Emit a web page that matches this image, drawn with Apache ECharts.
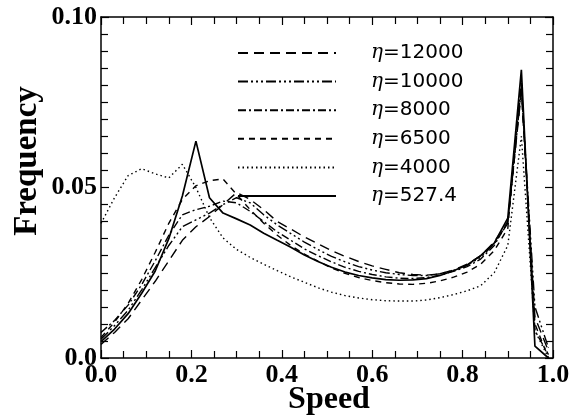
<!DOCTYPE html>
<html>
<head>
<meta charset="utf-8">
<script src="https://cdn.jsdelivr.net/npm/echarts@6/dist/echarts.min.js"></script>
<style>
  html, body { margin: 0; padding: 0; background: #fff; }
  #chart { width: 576px; height: 416px; }
</style>
</head>
<body>
<div id="chart"></div>
<script>
// speed bins (x) and frequency values per eta
const speed = [0.00, 0.03, 0.06, 0.09, 0.12, 0.15, 0.18, 0.21, 0.24, 0.27,
  0.30, 0.33, 0.36, 0.39, 0.42, 0.45, 0.48, 0.51, 0.54, 0.57,
  0.60, 0.63, 0.66, 0.69, 0.72, 0.75, 0.78, 0.81, 0.84, 0.87,
  0.90, 0.93, 0.96, 0.99]

const eta12000 = [0.0040, 0.0075, 0.0115, 0.0170, 0.0225, 0.0285, 0.0345, 0.0385, 0.0415, 0.0450,
  0.0485, 0.0465, 0.0435, 0.0400, 0.0378, 0.0355, 0.0335, 0.0315, 0.0298, 0.0283,
  0.0270, 0.0260, 0.0250, 0.0245, 0.0243, 0.0247, 0.0258, 0.0275, 0.0300, 0.0340,
  0.0400, 0.0780, 0.0120, 0.0020]
const eta10000 = [0.0055, 0.0095, 0.0140, 0.0200, 0.0265, 0.0330, 0.0385, 0.0405, 0.0425, 0.0450,
  0.0470, 0.0455, 0.0420, 0.0390, 0.0365, 0.0340, 0.0318, 0.0298, 0.0282, 0.0268,
  0.0258, 0.0250, 0.0245, 0.0242, 0.0242, 0.0247, 0.0257, 0.0272, 0.0295, 0.0335,
  0.0395, 0.0790, 0.0150, 0.0030]
const eta8000 = [0.0075, 0.0110, 0.0155, 0.0215, 0.0285, 0.0360, 0.0420, 0.0435, 0.0445, 0.0460,
  0.0455, 0.0430, 0.0400, 0.0370, 0.0345, 0.0320, 0.0300, 0.0282, 0.0266, 0.0254,
  0.0245, 0.0238, 0.0234, 0.0233, 0.0236, 0.0243, 0.0254, 0.0268, 0.0290, 0.0330,
  0.0400, 0.0810, 0.0080, 0.0010]
const eta6500 = [0.0060, 0.0105, 0.0160, 0.0230, 0.0310, 0.0395, 0.0465, 0.0505, 0.0520, 0.0525,
  0.0480, 0.0435, 0.0395, 0.0360, 0.0330, 0.0305, 0.0284, 0.0264, 0.0248, 0.0236,
  0.0227, 0.0221, 0.0217, 0.0216, 0.0219, 0.0226, 0.0237, 0.0252, 0.0275, 0.0315,
  0.0380, 0.0800, 0.0100, 0.0000]
const eta4000 = [0.0395, 0.0470, 0.0535, 0.0555, 0.0540, 0.0528, 0.0568, 0.0500, 0.0412, 0.0352,
  0.0318, 0.0295, 0.0275, 0.0256, 0.0238, 0.0222, 0.0206, 0.0193, 0.0183, 0.0176,
  0.0171, 0.0168, 0.0167, 0.0167, 0.0170, 0.0177, 0.0186, 0.0197, 0.0212, 0.0250,
  0.0330, 0.0650, 0.0080, 0.0000]
const eta527 = [0.0048, 0.0085, 0.0130, 0.0190, 0.0255, 0.0350, 0.0475, 0.0636, 0.0470, 0.0425,
  0.0408, 0.0390, 0.0366, 0.0345, 0.0325, 0.0302, 0.0283, 0.0266, 0.0252, 0.0242,
  0.0235, 0.0230, 0.0228, 0.0229, 0.0233, 0.0242, 0.0256, 0.0273, 0.0300, 0.0337,
  0.0410, 0.0845, 0.0035, 0.0000]

const seriesNames = ['12000', '10000', '8000', '6500', '4000', '527.4']
const seriesData = [eta12000, eta10000, eta8000, eta6500, eta4000, eta527]
const dashes = [[10, 6], [10, 3, 2, 3, 2, 3, 2, 3], [8, 3, 2, 3], [6, 5], [1.5, 3], 'solid']

var myChart = echarts.init(document.getElementById('chart'), null, { renderer: 'canvas' })

const series = seriesNames.map((name, i) => ({
  name: name,
  type: 'line',
  symbol: 'none',
  showSymbol: false,
  animation: false,
  color: '#000',
  itemStyle: { color: '#000' },
  lineStyle: { color: '#000', width: i === 5 ? 1.7 : 1.4, type: dashes[i] },
  data: speed.map((s, j) => [s, seriesData[i][j]])
}))

// fresh objects for each axis; onZero off so the extra axes stay on the frame
function line () {
  return { show: true, onZero: false, lineStyle: { color: '#000', width: 1.5 } }
}
function ticks () {
  return { show: true, inside: true, length: 8, lineStyle: { color: '#000', width: 1.2 } }
}
function minor (n) {
  return { show: true, splitNumber: n, length: 7, lineStyle: { color: '#000', width: 1.2 } }
}
function labels (fmt) {
  return { fontFamily: 'Liberation Serif', fontWeight: 'bold', fontSize: 26, color: '#000', margin: 4, formatter: fmt }
}

const option = {
  backgroundColor: '#fff',
  animation: false,
  grid: { left: 101, right: 23, top: 17, bottom: 58 },
  legend: {
    orient: 'vertical',
    left: 232,
    top: 38,
    itemWidth: 98,
    itemHeight: 18,
    itemGap: 8.6,
    itemStyle: { opacity: 0 },
    data: seriesNames,
    formatter: name => '{e|η}{t|=' + name + '}',
    textStyle: {
      rich: {
        e: { fontFamily: 'DejaVu Serif', fontStyle: 'italic', fontSize: 20, color: '#000', padding: [0, 0, 0, 30] },
        t: { fontFamily: 'DejaVu Sans', fontSize: 20, color: '#000' }
      }
    }
  },
  xAxis: [{
    type: 'value', min: 0, max: 1, interval: 0.2,
    axisLine: line(),
    axisTick: ticks(),
    minorTick: minor(4),
    splitLine: { show: false },
    axisLabel: labels(v => v.toFixed(1))
  }, {
    type: 'value', min: 0, max: 1, interval: 0.2, position: 'top',
    axisLine: line(),
    axisTick: ticks(),
    minorTick: minor(4),
    splitLine: { show: false },
    axisLabel: { show: false }
  }],
  yAxis: [{
    type: 'value', min: 0, max: 0.1, interval: 0.05,
    axisLine: line(),
    axisTick: ticks(),
    minorTick: minor(10),
    splitLine: { show: false },
    axisLabel: labels(v => v === 0 ? '0.0' : v.toFixed(2))
  }, {
    type: 'value', min: 0, max: 0.1, interval: 0.05, position: 'right',
    axisLine: line(),
    axisTick: ticks(),
    minorTick: minor(10),
    splitLine: { show: false },
    axisLabel: { show: false }
  }],
  graphic: [{
    type: 'text', x: 329, y: 400,
    style: { text: 'Speed', align: 'center', verticalAlign: 'middle', fill: '#000',
      fontFamily: 'Liberation Serif', fontWeight: 'bold', fontSize: 32 }
  }, {
    type: 'text', x: 27, y: 161, rotation: Math.PI / 2,
    style: { text: 'Frequency', align: 'center', verticalAlign: 'middle', fill: '#000',
      fontFamily: 'Liberation Serif', fontWeight: 'bold', fontSize: 33 }
  }],
  series: series
}
myChart.setOption(option)
</script>
</body>
</html>
